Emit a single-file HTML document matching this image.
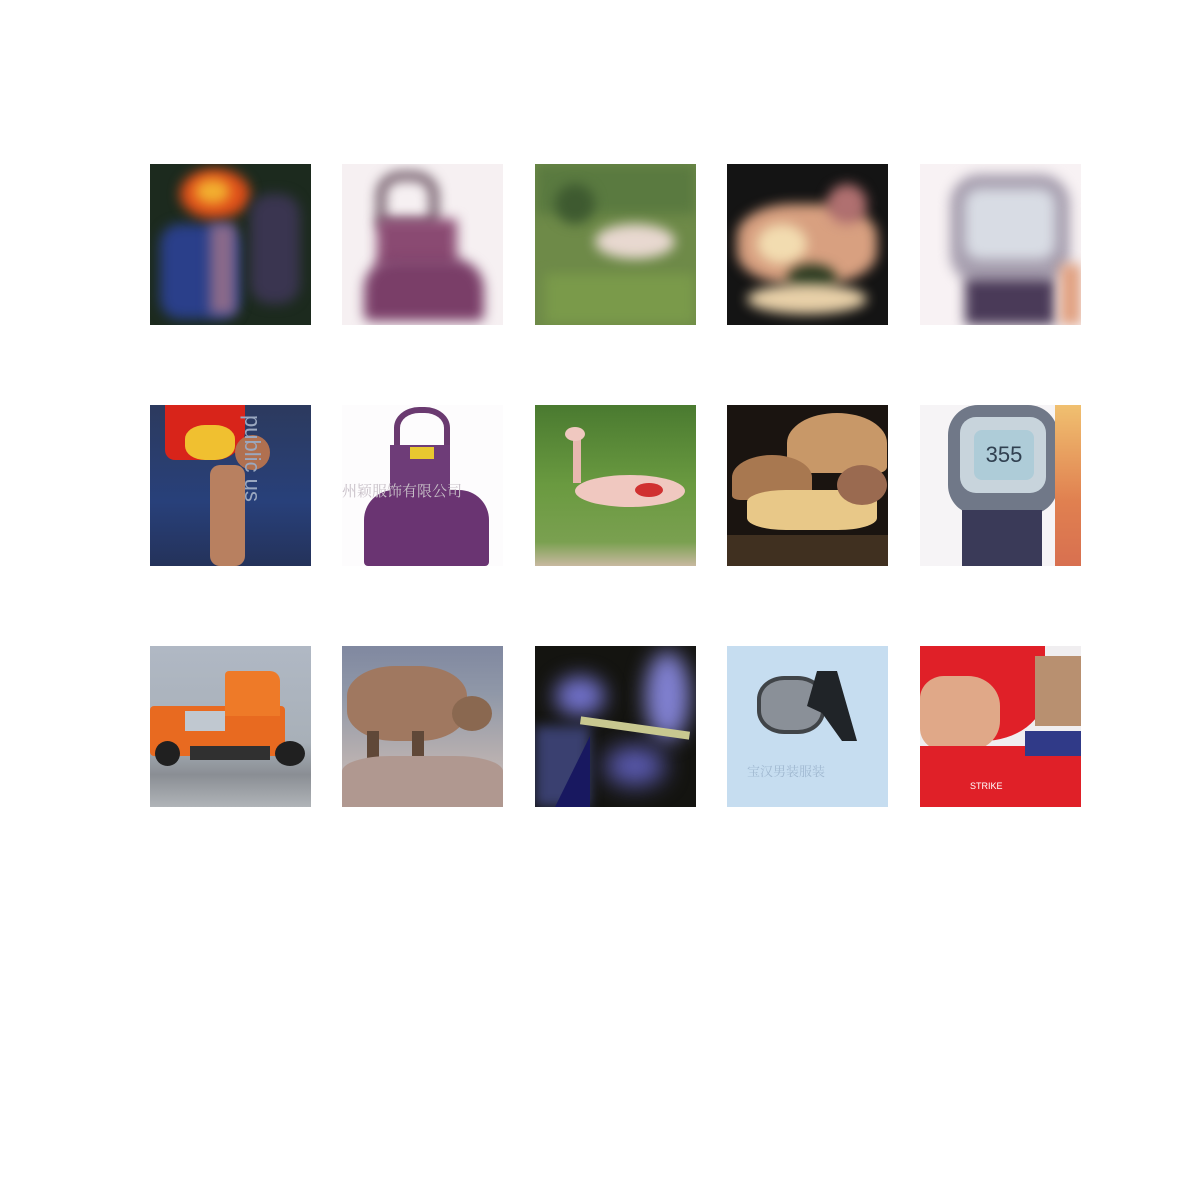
<!DOCTYPE html>
<html>
<head>
<meta charset="utf-8">
<style>
html,body{margin:0;padding:0;background:#fff;width:1200px;height:1200px;overflow:hidden;font-family:"Liberation Sans",sans-serif;}
.tile{position:absolute;width:161px;height:161px;overflow:hidden;}
.tile > div{position:absolute;}
.blur > div{filter:blur(6px);}
</style>
</head>
<body>

<!-- Row 1: reconstructions (blurry) -->
<div class="tile blur" style="left:150px;top:164px;background:#1c2a1e;">
  <div style="left:10px;top:60px;width:80px;height:95px;background:#2a3f8a;border-radius:20px;"></div>
  <div style="left:30px;top:5px;width:70px;height:50px;background:#e0501a;border-radius:50%;"></div>
  <div style="left:45px;top:15px;width:35px;height:25px;background:#f2b030;border-radius:50%;"></div>
  <div style="left:60px;top:60px;width:25px;height:90px;background:#8a6a8a;"></div>
  <div style="left:100px;top:30px;width:50px;height:110px;background:#3a3550;border-radius:20px;"></div>
</div>
<div class="tile blur" style="left:342px;top:164px;background:#f6f0f2;">
  <div style="left:35px;top:8px;width:45px;height:40px;border:8px solid #5a4050;border-radius:40% 40% 10% 10%;"></div>
  <div style="left:35px;top:55px;width:80px;height:50px;background:#8a4a72;"></div>
  <div style="left:22px;top:95px;width:120px;height:62px;background:#7a3e68;border-radius:30px 30px 6px 6px;"></div>
</div>
<div class="tile blur" style="left:535px;top:164px;background:#6e8a48;">
  <div style="left:0;top:0;width:161px;height:50px;background:#5a7a40;"></div>
  <div style="left:60px;top:60px;width:80px;height:35px;background:#e8d8d0;border-radius:50%;"></div>
  <div style="left:10px;top:110px;width:150px;height:50px;background:#7a9a4a;"></div>
  <div style="left:20px;top:20px;width:40px;height:40px;background:#3e5a30;border-radius:50%;"></div>
</div>
<div class="tile blur" style="left:727px;top:164px;background:#141414;">
  <div style="left:10px;top:40px;width:140px;height:80px;background:#d8a080;border-radius:40%;"></div>
  <div style="left:30px;top:60px;width:50px;height:40px;background:#f2dcb0;border-radius:50%;"></div>
  <div style="left:100px;top:20px;width:40px;height:40px;background:#b07070;border-radius:50%;"></div>
  <div style="left:60px;top:100px;width:50px;height:30px;background:#2a3a20;border-radius:50%;"></div>
  <div style="left:20px;top:120px;width:120px;height:30px;background:#e8d0a8;border-radius:50%;"></div>
</div>
<div class="tile blur" style="left:920px;top:164px;background:#f8f2f4;">
  <div style="left:30px;top:10px;width:120px;height:110px;background:#a8a0b0;border-radius:30px;"></div>
  <div style="left:45px;top:25px;width:90px;height:70px;background:#d8dce4;border-radius:15px;"></div>
  <div style="left:45px;top:115px;width:90px;height:46px;background:#4a3a58;"></div>
  <div style="left:140px;top:100px;width:21px;height:61px;background:#e0a080;"></div>
</div>

<!-- Row 2: originals -->
<div class="tile" style="left:150px;top:405px;background:linear-gradient(180deg,#2c3a5e 0%,#28407a 60%,#24325a 100%);">
  <div style="left:15px;top:0;width:80px;height:55px;background:#d8241a;border-radius:0 0 30px 10px;"></div>
  <div style="left:35px;top:20px;width:50px;height:35px;background:#f0c030;border-radius:40%;"></div>
  <div style="left:85px;top:30px;width:35px;height:35px;background:#b07050;border-radius:50%;"></div>
  <div style="left:60px;top:60px;width:35px;height:101px;background:#b88060;border-radius:10px;"></div>
  <div style="left:95px;top:10px;width:20px;height:150px;color:#9aa8c0;font-size:22px;writing-mode:vertical-rl;">public us</div>
</div>
<div class="tile" style="left:342px;top:405px;background:#fdfcfd;">
  <div style="left:52px;top:2px;width:44px;height:40px;border:6px solid #6a3a70;border-bottom:none;border-radius:45% 45% 0 0;"></div>
  <div style="left:48px;top:40px;width:60px;height:50px;background:#6e3c78;"></div>
  <div style="left:22px;top:85px;width:125px;height:76px;background:#6a3472;border-radius:30px 30px 4px 4px;"></div>
  <div style="left:68px;top:42px;width:24px;height:12px;background:#e8c830;"></div>
  <div style="left:0;top:75px;width:161px;height:20px;color:#c8c0c8;font-size:15px;white-space:nowrap;font-family:'Noto Serif CJK SC',serif;">州颖服饰有限公司</div>
</div>
<div class="tile" style="left:535px;top:405px;background:linear-gradient(180deg,#4a7a30 0%,#6a9a40 50%,#7aa050 85%,#c8b8a0 100%);">
  <div style="left:38px;top:28px;width:8px;height:50px;background:#e8b8b0;"></div>
  <div style="left:30px;top:22px;width:20px;height:14px;background:#f0c8c0;border-radius:50%;"></div>
  <div style="left:40px;top:70px;width:110px;height:32px;background:#f0c8c0;border-radius:50%;"></div>
  <div style="left:100px;top:78px;width:28px;height:14px;background:#d03030;border-radius:50%;"></div>
</div>
<div class="tile" style="left:727px;top:405px;background:#1a1410;">
  <div style="left:60px;top:8px;width:100px;height:60px;background:#c89868;border-radius:50% 50% 10% 10%;"></div>
  <div style="left:5px;top:50px;width:80px;height:45px;background:#a87850;border-radius:50% 50% 10% 10%;"></div>
  <div style="left:20px;top:85px;width:130px;height:40px;background:#e8c888;border-radius:30%;"></div>
  <div style="left:110px;top:60px;width:50px;height:40px;background:#9a6a50;border-radius:50%;"></div>
  <div style="left:0;top:130px;width:161px;height:31px;background:#403020;"></div>
</div>
<div class="tile" style="left:920px;top:405px;background:#f6f4f6;">
  <div style="left:28px;top:0;width:110px;height:110px;background:#707888;border-radius:30px;"></div>
  <div style="left:40px;top:12px;width:86px;height:76px;background:#c8d4dc;border-radius:16px;"></div>
  <div style="left:54px;top:25px;width:60px;height:50px;background:#aeccd8;border-radius:8px;color:#304050;font-size:22px;text-align:center;line-height:50px;">355</div>
  <div style="left:42px;top:105px;width:80px;height:56px;background:#3a3a58;"></div>
  <div style="left:135px;top:0;width:26px;height:161px;background:linear-gradient(180deg,#f0c070,#e08050 60%,#d87050);"></div>
</div>

<!-- Row 3 -->
<div class="tile" style="left:150px;top:646px;background:linear-gradient(180deg,#b0b8c4 0%,#a8b0b8 60%,#8a8e94 80%,#b0b4b8 100%);">
  <div style="left:0;top:60px;width:135px;height:50px;background:#e86a20;border-radius:4px;"></div>
  <div style="left:75px;top:25px;width:55px;height:45px;background:#ee7a28;border-radius:4px 10px 0 0;"></div>
  <div style="left:35px;top:65px;width:40px;height:20px;background:#c0c8d0;"></div>
  <div style="left:5px;top:95px;width:25px;height:25px;background:#202020;border-radius:50%;"></div>
  <div style="left:125px;top:95px;width:30px;height:25px;background:#202020;border-radius:50%;"></div>
  <div style="left:40px;top:100px;width:80px;height:14px;background:#303030;"></div>
</div>
<div class="tile" style="left:342px;top:646px;background:linear-gradient(180deg,#8088a0 0%,#9098a8 30%,#b8b0b0 70%,#d0c8c8 100%);">
  <div style="left:5px;top:20px;width:120px;height:75px;background:#a07860;border-radius:40%;"></div>
  <div style="left:110px;top:50px;width:40px;height:35px;background:#8a6850;border-radius:50%;"></div>
  <div style="left:25px;top:85px;width:12px;height:40px;background:#604838;"></div>
  <div style="left:70px;top:85px;width:12px;height:40px;background:#604838;"></div>
  <div style="left:0;top:110px;width:161px;height:51px;background:#b09890;border-radius:30% 30% 0 0;"></div>
</div>
<div class="tile" style="left:535px;top:646px;background:#141410;">
  <div style="left:20px;top:30px;width:50px;height:40px;background:#7070c8;border-radius:50%;filter:blur(10px);"></div>
  <div style="left:110px;top:5px;width:45px;height:90px;background:#8080d0;border-radius:50%;filter:blur(10px);"></div>
  <div style="left:70px;top:100px;width:60px;height:40px;background:#5a5ab0;border-radius:50%;filter:blur(12px);"></div>
  <div style="left:0;top:80px;width:55px;height:81px;background:#3a4070;filter:blur(6px);"></div>
  <div style="left:20px;top:90px;width:35px;height:71px;background:#181860;clip-path:polygon(100% 0,100% 100%,0 100%);"></div>
  <div style="left:45px;top:78px;width:110px;height:8px;background:#c8c890;transform:rotate(8deg);"></div>
</div>
<div class="tile" style="left:727px;top:646px;background:#c6ddf0;">
  <div style="left:30px;top:30px;width:60px;height:50px;border:4px solid #404448;border-radius:40%;background:#8a9098;"></div>
  <div style="left:80px;top:25px;width:50px;height:70px;background:#202428;clip-path:polygon(20% 0,60% 0,100% 100%,70% 100%,30% 60%,0 50%);"></div>
  <div style="left:20px;top:115px;width:140px;height:20px;color:#a0b8d0;font-size:13px;white-space:nowrap;font-family:'Noto Serif CJK SC',serif;">宝汉男装服装</div>
</div>
<div class="tile" style="left:920px;top:646px;background:#f0eef0;">
  <div style="left:0;top:0;width:125px;height:95px;background:#e02028;border-radius:0 0 50% 30%;"></div>
  <div style="left:0;top:30px;width:80px;height:75px;background:#e0a888;border-radius:30% 40% 40% 30%;"></div>
  <div style="left:115px;top:10px;width:46px;height:70px;background:#b89070;"></div>
  <div style="left:0;top:100px;width:161px;height:61px;background:#e02028;"></div>
  <div style="left:105px;top:85px;width:56px;height:25px;background:#303a88;"></div>
  <div style="left:50px;top:135px;width:28px;height:12px;color:#fff;font-size:9px;">STRIKE</div>
</div>

</body>
</html>
